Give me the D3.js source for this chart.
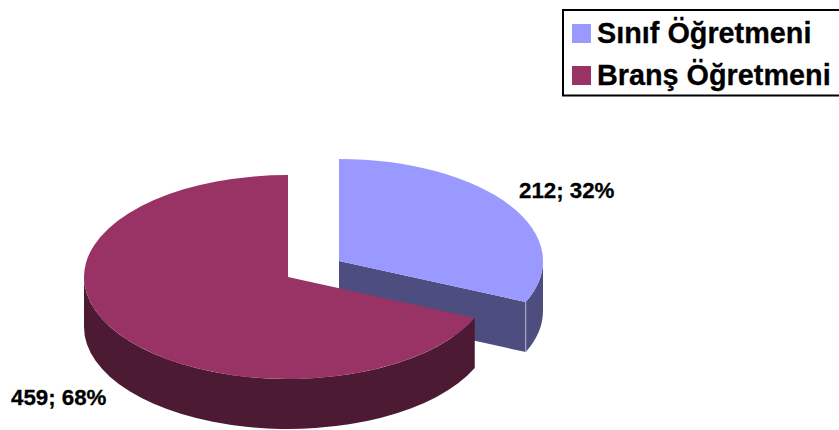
<!DOCTYPE html>
<html lang="en">
<head>
  <meta charset="UTF-8">
  <title>Sınıf / Branş Öğretmeni</title>
  <script src="https://d3js.org/d3.v7.min.js"></script>
  <style>
    html, body { margin: 0; padding: 0; background: #fff; overflow: hidden; }
    text { font-family: "Liberation Sans", Arial, sans-serif; font-weight: bold; fill: #000; stroke: #000; stroke-width: 0.3px; }
  </style>
</head>
<body>
  <script>
    var categories = ["Sınıf Öğretmeni", "Branş Öğretmeni"];
    var values = [212, 459];
    var topColors = ["#9999ff", "#993366"];
    var sideColors = ["#4d4d80", "#4d1a33"];

    var width = 839, height = 430;
    var rx = 204, ry = 102, depth = 50;
    var centers = [{ x: 339, y: 261 }, { x: 288, y: 277 }];
    var labelPos = [{ x: 519, y: 198 }, { x: 11, y: 405 }];

    var svg = d3.select("body").append("svg")
      .attr("width", width)
      .attr("height", height)
      .style("display", "block");

    var total = d3.sum(values);
    var slices = d3.pie().value(d => d).sort(null)(values);

    // angle is measured clockwise from the top, like d3.arc
    function px(c, a) { return c.x + rx * Math.sin(a); }
    function py(c, a) { return c.y - ry * Math.cos(a); }

    function arcTo(x, y, large, sweep) {
      return "A" + rx + "," + ry + " 0 " + large + " " + sweep + " " + x + "," + y;
    }

    function topPath(c, s) {
      var large = s.endAngle - s.startAngle > Math.PI ? 1 : 0;
      return "M" + c.x + "," + c.y +
        "L" + px(c, s.startAngle) + "," + py(c, s.startAngle) +
        arcTo(px(c, s.endAngle), py(c, s.endAngle), large, 1) + "Z";
    }

    // only the part of the rim facing the viewer (right to left, through the bottom)
    function wallPath(c, s) {
      var a0 = Math.max(s.startAngle, Math.PI / 2);
      var a1 = Math.min(s.endAngle, Math.PI * 1.5);
      return "M" + px(c, a0) + "," + py(c, a0) +
        arcTo(px(c, a1), py(c, a1), 0, 1) +
        "L" + px(c, a1) + "," + (py(c, a1) + depth) +
        arcTo(px(c, a0), py(c, a0) + depth, 0, 0) + "Z";
    }

    function cutPath(c, a) {
      var p = d3.path();
      p.moveTo(c.x, c.y);
      p.lineTo(px(c, a), py(c, a));
      p.lineTo(px(c, a), py(c, a) + depth);
      p.lineTo(c.x, c.y + depth);
      p.closePath();
      return p.toString();
    }

    var pie = svg.append("g");

    slices.forEach(function(s, i) {
      var c = centers[i];
      var g = pie.append("g");
      if (i === 0) {
        // the cut face of the pulled out slice shows
        g.append("path").attr("d", cutPath(c, s.endAngle)).attr("fill", sideColors[i]);
      }
      g.append("path").attr("d", wallPath(c, s)).attr("fill", sideColors[i]);
      if (i === 0) {
        g.append("line")
          .attr("x1", px(c, s.endAngle)).attr("y1", py(c, s.endAngle))
          .attr("x2", px(c, s.endAngle)).attr("y2", py(c, s.endAngle) + depth)
          .attr("stroke", "#b8b8cc").attr("stroke-width", 1);
      }
      g.append("path").attr("d", topPath(c, s)).attr("fill", topColors[i]);
    });

    svg.selectAll(".label")
      .data(values)
      .enter()
      .append("text")
      .attr("class", "label")
      .attr("x", (d, i) => labelPos[i].x)
      .attr("y", (d, i) => labelPos[i].y)
      .style("font-size", "22.3px")
      .text(d => d + "; " + Math.round(d / total * 100) + "%");

    // legend, its right side runs up to the edge of the picture
    var legend = svg.append("g");
    legend.append("rect")
      .attr("x", 563).attr("y", 10)
      .attr("width", 280).attr("height", 85.5)
      .attr("fill", "#fff")
      .attr("stroke", "#000")
      .attr("stroke-width", 2);

    var row = d3.scalePoint().domain(categories).range([33.5, 75.5]);

    legend.selectAll(".swatch")
      .data(categories)
      .enter()
      .append("rect")
      .attr("class", "swatch")
      .attr("x", 572)
      .attr("y", d => row(d) - 9.5)
      .attr("width", 19)
      .attr("height", 19)
      .attr("fill", (d, i) => topColors[i]);

    legend.selectAll(".name")
      .data(categories)
      .enter()
      .append("text")
      .attr("class", "name")
      .attr("x", 597)
      .attr("y", d => row(d) + 9)
      .style("font-size", "28.8px")
      .text(d => d);
  </script>
</body>
</html>
